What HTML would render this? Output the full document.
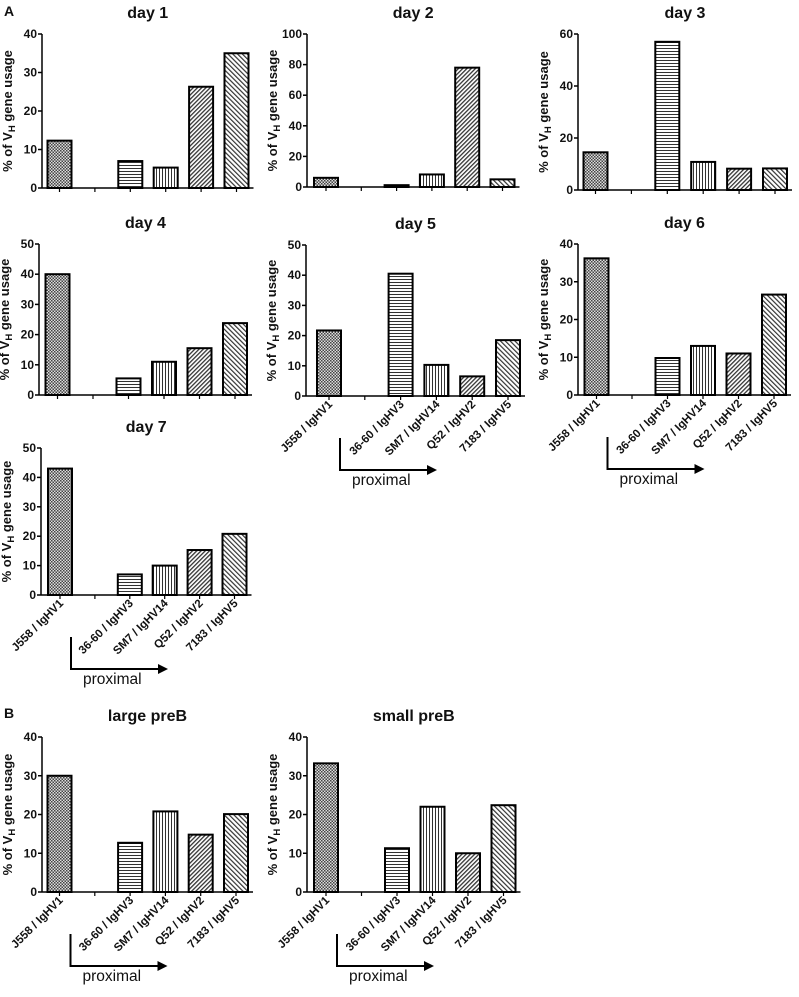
<!DOCTYPE html>
<html><head><meta charset="utf-8"><style>
body{margin:0;background:#fff}
svg text{font-family:"Liberation Sans",Arial,sans-serif;fill:#111}
</style></head><body>
<svg id="fig" width="799" height="992" viewBox="0 0 799 992" xmlns="http://www.w3.org/2000/svg">
<defs>
<pattern id="p0" patternUnits="userSpaceOnUse" width="3" height="3"><rect width="3" height="3" fill="#ddd"/><rect width="1.5" height="1.5" fill="#444"/><rect x="1.5" y="1.5" width="1.5" height="1.5" fill="#444"/></pattern>
<pattern id="p2" patternUnits="userSpaceOnUse" width="4" height="3"><rect width="4" height="3" fill="#fff"/><rect width="4" height="1" fill="#333"/></pattern>
<pattern id="p3" patternUnits="userSpaceOnUse" width="3" height="4"><rect width="3" height="4" fill="#fff"/><rect width="1" height="4" fill="#333"/></pattern>
<pattern id="p4" patternUnits="userSpaceOnUse" width="3" height="3" patternTransform="rotate(45)"><rect width="3" height="3" fill="#fff"/><rect width="1.3" height="3" fill="#333"/></pattern>
<pattern id="p5" patternUnits="userSpaceOnUse" width="3.4" height="3.4" patternTransform="rotate(-45)"><rect width="3.4" height="3.4" fill="#fff"/><rect width="1.2" height="3.4" fill="#333"/></pattern>
</defs>
<text x="4" y="16" font-size="14" font-weight="bold">A</text>
<text x="4" y="718" font-size="14" font-weight="bold">B</text>
</svg>
<script>
const categories = ["J558 / IgHV1", "", "36-60 / IgHV3", "SM7 / IgHV14", "Q52 / IgHV2", "7183 / IgHV5"];
const titles = ["day 1","day 2","day 3","day 4","day 5","day 6","day 7","large preB","small preB"];
const day1 = [12.3, null, 7, 5.3, 26.3, 35];
const day2 = [6, null, 1.2, 8.2, 78, 5];
const day3 = [14.5, null, 57, 10.8, 8.2, 8.3];
const day4 = [40, null, 5.5, 11, 15.5, 23.8];
const day5 = [21.7, null, 40.5, 10.3, 6.5, 18.5];
const day6 = [36.2, null, 9.8, 13, 11, 26.6];
const day7 = [43, null, 7, 10, 15.3, 20.8];
const largePreB = [30, null, 12.7, 20.8, 14.8, 20.1];
const smallPreB = [33.2, null, 11.3, 22, 10, 22.4];
const series = [day1, day2, day3, day4, day5, day6, day7, largePreB, smallPreB];
const yMax = [40, 100, 60, 50, 50, 40, 50, 40, 40];
const yStep = [10, 20, 20, 10, 10, 10, 10, 10, 10];
const showLabels = [false,false,false,false,true,true,true,true,true];

const layout = [
 {ax:42,top:34,zero:188,c1:59.5,sp:35.4},
 {ax:307,top:34,zero:187,c1:326,sp:35.3},
 {ax:578,top:34,zero:190,c1:595.5,sp:35.9},
 {ax:39,top:244,zero:395,c1:57.5,sp:35.5},
 {ax:306,top:245,zero:396,c1:329,sp:35.8},
 {ax:578,top:244,zero:395,c1:596.5,sp:35.5},
 {ax:41,top:448,zero:595,c1:60,sp:34.9},
 {ax:42,top:737,zero:892,c1:59.5,sp:35.3},
 {ax:307,top:737,zero:892,c1:326,sp:35.5}
];
const pats = ["p0","","p2","p3","p4","p5"];
const NS="http://www.w3.org/2000/svg";
const svg=document.getElementById('fig');
function mk(tag,attrs,parent){const e=document.createElementNS(NS,tag);for(const k in attrs)e.setAttribute(k,attrs[k]);(parent||svg).appendChild(e);return e;}

series.forEach((vals,p)=>{
  const L=layout[p];
  const g=mk('g',{});
  
  
  const y=v=>L.zero-(v/yMax[p])*(L.zero-L.top);
  const x=i=>L.c1+i*L.sp;
  const xEnd=x(5)+17;
  const t=mk('text',{x:(L.ax+xEnd)/2,y:L.top-16,'font-size':16,'font-weight':'bold','text-anchor':'middle'},g);
  t.textContent=titles[p];
  
  
  vals.forEach((v,i)=>{
    if(v===null)return;
    const r=mk('rect',{x:x(i)-12,y:y(v),width:24,height:L.zero-y(v),fill:'url(#'+pats[i]+')',stroke:'#000','stroke-width':2},g);
    
    
  });
  const ya=mk('line',{x1:L.ax,y1:L.top,x2:L.ax,y2:L.zero,stroke:'#000','stroke-width':1.5},g);
  
  
  const xa=mk('line',{x1:L.ax,y1:L.zero,x2:xEnd,y2:L.zero,stroke:'#000','stroke-width':1.5},g);
  
  
  for(let v=0;v<=yMax[p];v+=yStep[p]){
    mk('line',{x1:L.ax-4,y1:y(v),x2:L.ax,y2:y(v),stroke:'#000','stroke-width':1.5},g);
    const tl=mk('text',{x:L.ax-5,y:y(v)+4,'font-size':12,'font-weight':'bold','text-anchor':'end'},g);
    tl.textContent=v;
    
    
  }
  categories.forEach((c,i)=>{
    mk('line',{x1:x(i),y1:L.zero,x2:x(i),y2:L.zero+4,stroke:'#000','stroke-width':1.2},g);
    if(showLabels[p]&&c){
      const lx=x(i)+4, ly=L.zero+9;
      const tl=mk('text',{x:lx,y:ly,'font-size':11.5,'font-weight':'bold','text-anchor':'end',transform:'rotate(-45 '+lx+' '+ly+')'},g);
      tl.textContent=c;
      
      
    }
  });
  const cy=(L.top+L.zero)/2, cx=L.ax-30;
  const yl=mk('text',{x:cx,y:cy,'font-size':13,'font-weight':'bold','text-anchor':'middle',transform:'rotate(-90 '+cx+' '+cy+')'},g);
  yl.innerHTML='% of V<tspan font-size="9.5" dy="3">H</tspan><tspan dy="-3"> gene usage</tspan>';
  
  
  if(showLabels[p]){
    const axX=L.c1+11, y1=L.zero+42, y2=L.zero+74, x2=L.c1+108;
    const ar=mk('path',{d:`M${axX} ${y1} V${y2} H${x2-8}`,fill:'none',stroke:'#000','stroke-width':2},g);
    
    
    mk('path',{d:`M${x2} ${y2} L${x2-10} ${y2-5} L${x2-10} ${y2+5} Z`,fill:'#000'},g);
    const pt=mk('text',{x:axX+12,y:y2+15,'font-size':15.5},g);
    pt.textContent='proximal';
    
    
  }
});
</script>
</body></html>
